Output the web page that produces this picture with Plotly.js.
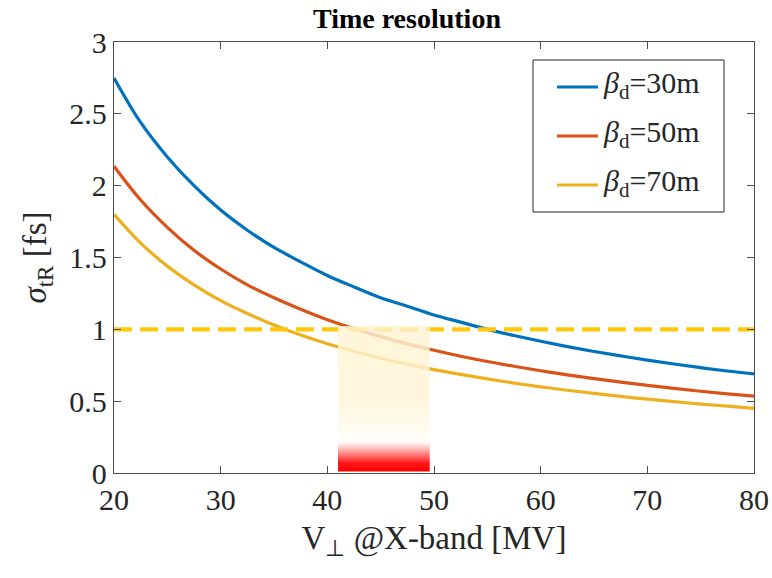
<!DOCTYPE html>
<html>
<head>
<meta charset="utf-8">
<script src="https://cdn.plot.ly/plotly-3.0.1.min.js"></script>
<style>html,body{margin:0;padding:0;background:#fff;}#chart{width:772px;height:578px;}</style>
</head>
<body>
<div id="chart"></div>
<script>
// Data
const xVals = [20, 22.5, 25, 27.5, 30, 32.5, 35, 37.5, 40, 42.5, 45, 47.5, 50, 52.5, 55, 57.5, 60, 62.5, 65, 67.5, 70, 72.5, 75, 77.5, 80];
const beta30 = [2.75, 2.44, 2.20, 2.00, 1.83, 1.69, 1.57, 1.47, 1.375, 1.295, 1.22, 1.16, 1.10, 1.05, 1.00, 0.957, 0.917, 0.88, 0.846, 0.815, 0.786, 0.759, 0.733, 0.71, 0.69];
const beta50 = [2.135, 1.90, 1.71, 1.55, 1.42, 1.31, 1.22, 1.14, 1.067, 1.005, 0.949, 0.899, 0.854, 0.813, 0.776, 0.743, 0.712, 0.683, 0.657, 0.633, 0.61, 0.589, 0.569, 0.551, 0.535];
const beta70 = [1.80, 1.60, 1.44, 1.31, 1.20, 1.11, 1.03, 0.96, 0.90, 0.847, 0.80, 0.758, 0.72, 0.686, 0.655, 0.626, 0.60, 0.576, 0.554, 0.533, 0.514, 0.497, 0.48, 0.465, 0.45];
const seriesNames = ['<i>β</i><sub>d</sub>=30m', '<i>β</i><sub>d</sub>=50m', '<i>β</i><sub>d</sub>=70m'];
const thresholdX = [20, 80];
const thresholdY = [1, 1];
const bandX = [41.0, 49.6, 49.6, 41.0, 41.0];
const bandY = [0.01, 0.01, 1.024, 1.024, 0.01];
const xTicks = [20, 30, 40, 50, 60, 70, 80];
const yTicks = [0, 0.5, 1, 1.5, 2, 2.5, 3];
const yTickText = ['0', '0.5', '1', '1.5', '2', '2.5', '3'];

const colors = ['#0072BD', '#D95319', '#EDB120'];
const font = '"Liberation Serif"';

// plot-area geometry (pixels) used to place the hand-made legend
const W = 772, H = 578, ML = 114, MR = 18, MT = 42, MB = 105;
const PW = W - ML - MR, PH = H - MT - MB;
const px2x = p => (p - ML) / PW;
const py2y = p => (H - MB - p) / PH;

const traces = [beta30, beta50, beta70].map((ys, i) => ({
  x: xVals, y: ys, type: 'scatter', mode: 'lines', name: seriesNames[i], showlegend: false,
  line: {color: colors[i], width: 3.2, shape: 'spline', smoothing: 1}
}));
traces.push({
  x: thresholdX, y: thresholdY, type: 'scatter', mode: 'lines', showlegend: false,
  line: {color: '#FFC80A', width: 4.2, dash: '18px,8px'}
});
traces.push({
  x: bandX, y: bandY, type: 'scatter', mode: 'lines', fill: 'toself', showlegend: false,
  line: {width: 0, color: 'rgba(0,0,0,0)'},
  fillgradient: {
    type: 'vertical', start: 0.01, stop: 1.024,
    colorscale: [
      [0, 'rgba(255,0,0,1)'],
      [0.06, 'rgba(255,20,20,0.98)'],
      [0.2, 'rgba(255,248,246,0.85)'],
      [0.25, 'rgba(255,253,245,0.85)'],
      [0.47, 'rgba(255,244,214,0.82)'],
      [1, 'rgba(255,243,210,0.82)']
    ]
  },
  hoverinfo: 'skip'
});

// legend (box, sample lines, labels)
const shapes = [{
  type: 'rect', xref: 'paper', yref: 'paper',
  x0: px2x(533), x1: px2x(724), y0: py2y(212), y1: py2y(60),
  line: {color: '#262626', width: 1}, fillcolor: '#fff', layer: 'above'
}];
const annotations = [];
const rowY = [87, 136, 185];
seriesNames.forEach((n, i) => {
  shapes.push({
    type: 'line', xref: 'paper', yref: 'paper',
    x0: px2x(557), x1: px2x(598), y0: py2y(rowY[i]), y1: py2y(rowY[i]),
    line: {color: colors[i], width: 3.2}, layer: 'above'
  });
  annotations.push({
    xref: 'paper', yref: 'paper', x: px2x(601), y: py2y(rowY[i] - 2),
    xanchor: 'left', yanchor: 'middle', showarrow: false, text: n,
    font: {family: font, size: 30, color: '#262626'}
  });
});

const axisCommon = {
  showline: true, mirror: 'ticks', ticks: 'inside', ticklen: 7, tickwidth: 1,
  linecolor: '#4d4d4d', linewidth: 1.3, tickcolor: '#4d4d4d',
  showgrid: false, zeroline: false,
  tickfont: {family: font, size: 30, color: '#262626'}
};

const layout = {
  width: W, height: H,
  margin: {l: ML, r: MR, t: MT, b: MB},
  paper_bgcolor: '#fff', plot_bgcolor: '#fff',
  font: {family: font, color: '#262626'},
  title: {text: '<b>Time resolution</b>', font: {family: font, size: 28, color: '#000'},
          x: px2x(407), xref: 'paper', xanchor: 'center', y: 0.968, yref: 'container', yanchor: 'middle'},
  xaxis: Object.assign({}, axisCommon, {
    range: [20, 80], tickvals: xTicks, ticktext: xTicks.map(String),
    title: {text: 'V<sub>⊥</sub> @X-band [MV]', font: {family: font, size: 33, color: '#262626'}, standoff: 10}
  }),
  yaxis: Object.assign({}, axisCommon, {
    range: [0, 3], tickvals: yTicks, ticktext: yTickText,
    title: {text: '<i>σ</i><sub>tR</sub> [fs]', font: {family: font, size: 33, color: '#262626'}, standoff: 12}
  }),
  shapes: shapes,
  annotations: annotations,
  showlegend: false
};

Plotly.newPlot('chart', traces, layout, {displayModeBar: false, staticPlot: true});
</script>
</body>
</html>
